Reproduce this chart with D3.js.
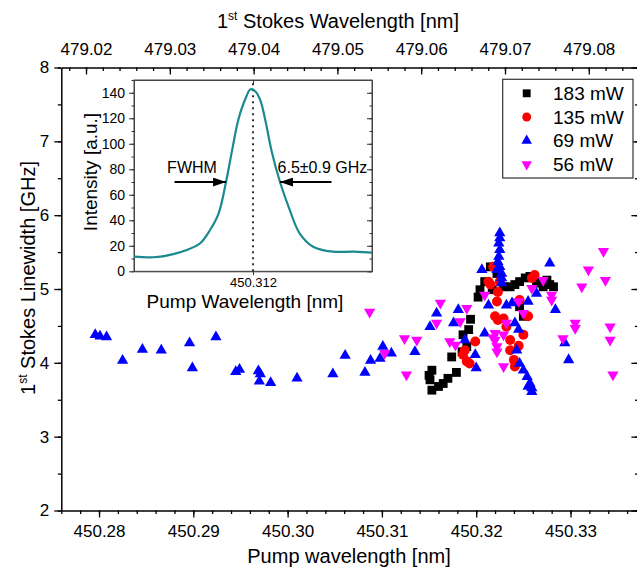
<!DOCTYPE html>
<html>
<head>
<meta charset="utf-8">
<script src="https://cdn.jsdelivr.net/npm/d3@7"></script>
<style>
  body { margin: 0; background: #fff; }
  svg { display: block; font-family: "Liberation Sans", Arial, sans-serif; }
</style>
</head>
<body>
<div id="myDiv"></div>
<script>
//--------------------------------------------------
// Data
//--------------------------------------------------
var pump183 = [450.3150, 450.3151, 450.3153, 450.3153, 450.3160, 450.3165, 450.3170, 450.3179, 450.3174, 450.3185, 450.3190, 450.3186, 450.3192, 450.3194, 450.3202, 450.3204, 450.3209, 450.3215, 450.3217, 450.3222, 450.3229, 450.3236, 450.3241, 450.3246, 450.3252, 450.3257, 450.3264, 450.3271, 450.3278, 450.3282, 450.3250, 450.3246, 450.3268, 450.3275];
var lw183 = [3.83, 3.77, 3.63, 3.90, 3.68, 3.72, 3.79, 3.87, 4.08, 4.15, 4.22, 4.38, 4.45, 4.59, 4.89, 4.99, 5.10, 5.30, 4.99, 5.21, 5.03, 5.03, 5.06, 5.10, 5.15, 5.17, 5.10, 5.03, 5.06, 5.03, 4.63, 4.76, 5.08, 5.12];

var pump135 = [450.3218, 450.3213, 450.3223, 450.3222, 450.3220, 450.3223, 450.3229, 450.3232, 450.3199, 450.3188, 450.3186, 450.3190, 450.3193, 450.3236, 450.3250, 450.3245, 450.3236, 450.3240, 450.3241, 450.3255, 450.3259, 450.3262, 450.3225, 450.3246, 450.3215];
var lw135 = [5.30, 5.10, 4.96, 4.83, 4.63, 4.58, 4.60, 4.49, 4.29, 4.17, 4.11, 4.02, 3.99, 4.31, 4.38, 4.23, 4.17, 4.04, 3.95, 4.63, 5.15, 5.19, 5.10, 4.85, 5.06];

var pump69 = [450.2796, 450.2801, 450.2808, 450.2825, 450.2846, 450.2866, 450.2896, 450.2899, 450.2924, 450.2945, 450.2949, 450.2969, 450.2971, 450.2970, 450.2982, 450.3010, 450.3048, 450.3061, 450.3082, 450.3088, 450.3098, 450.3101, 450.3110, 450.3135, 450.3151, 450.3158, 450.3176, 450.3181, 450.3188, 450.3199, 450.3200, 450.3206, 450.3209, 450.3213, 450.3222, 450.3223, 450.3224, 450.3225, 450.3225, 450.3225, 450.3224, 450.3225, 450.3227, 450.3227, 450.3227, 450.3232, 450.3238, 450.3241, 450.3245, 450.3243, 450.3246, 450.3250, 450.3254, 450.3257, 450.3259, 450.3259, 450.3255, 450.3255, 450.3264, 450.3278, 450.3284, 450.3294, 450.3298];
var lw69 = [4.38, 4.36, 4.35, 4.03, 4.18, 4.17, 4.27, 3.93, 4.35, 3.88, 3.91, 3.89, 3.85, 3.75, 3.73, 3.79, 3.85, 4.10, 3.87, 4.03, 4.06, 4.22, 4.13, 4.15, 4.49, 4.67, 4.54, 4.72, 4.31, 4.11, 3.93, 5.26, 4.40, 4.78, 5.26, 5.37, 5.44, 5.53, 5.69, 5.76, 5.62, 5.30, 5.21, 5.15, 5.08, 4.78, 4.81, 4.54, 4.45, 4.17, 3.99, 3.90, 3.81, 3.72, 3.66, 3.61, 3.68, 4.83, 4.94, 5.35, 4.72, 4.27, 4.04];

var pump56 = [450.3087, 450.3103, 450.3124, 450.3126, 450.3137, 450.3158, 450.3162, 450.3172, 450.3178, 450.3183, 450.3190, 450.3209, 450.3218, 450.3220, 450.3220, 450.3222, 450.3222, 450.3229, 450.3229, 450.3232, 450.3245, 450.3250, 450.3259, 450.3271, 450.3280, 450.3280, 450.3292, 450.3305, 450.3305, 450.3312, 450.3319, 450.3335, 450.3337, 450.3342, 450.3342, 450.3345];
var lw56 = [4.69, 4.13, 4.33, 3.84, 4.31, 4.54, 4.81, 4.29, 4.24, 4.56, 4.74, 4.92, 4.34, 4.40, 4.31, 4.22, 4.15, 4.38, 3.95, 4.54, 4.83, 4.67, 5.01, 5.12, 4.92, 4.85, 4.33, 4.54, 4.47, 5.03, 5.26, 5.51, 5.12, 4.49, 4.31, 3.84];

var seriesNames = ['183 mW', '135 mW', '69 mW', '56 mW'];
var seriesColors = ['#000000', '#ff0000', '#0000ff', '#ff00ff'];

// inset spectrum
var insetPump = [450.3023, 450.3039, 450.3055, 450.3066, 450.3077, 450.3085, 450.3092, 450.3098, 450.3103, 450.3108, 450.3114, 450.3118, 450.3122, 450.3126, 450.3130, 450.3135, 450.3142, 450.3150, 450.3158, 450.3169, 450.3185, 450.3202, 450.3217];
var insetIntensity = [11.5, 11, 13.5, 16.7, 22, 32.4, 45.5, 70, 95, 118.7, 135.7, 142.7, 141, 134, 118.7, 95, 70, 48, 29.8, 19.3, 15.4, 15.4, 14.6];

var bottomTicks = [450.28, 450.29, 450.30, 450.31, 450.32, 450.33];
var topTicks = [479.02, 479.03, 479.04, 479.05, 479.06, 479.07, 479.08];
var leftTicks = [2, 3, 4, 5, 6, 7, 8];
var insetYTicks = [0, 20, 40, 60, 80, 100, 120, 140];
var insetXTicks = [450.312];

//--------------------------------------------------
// Chart
//--------------------------------------------------
var width = 637, height = 568;
var fontFamily = '"Liberation Sans", Arial, sans-serif';

var svg = d3.select('#myDiv').append('svg')
  .attr('width', width)
  .attr('height', height);

svg.append('rect').attr('width', width).attr('height', height).attr('fill', '#fff');

var x = d3.scaleLinear().domain([450.276, 450.3372]).range([61.3, 638.4]);
var xTop = d3.scaleLinear().domain([479.01705, 479.08592]).range([61.3, 638.4]);
var y = d3.scaleLinear().domain([2, 8]).range([510.5, 67.5]);

function minorTicks(lo, hi, step) {
  var out = [];
  var n = Math.round((hi - lo) / step);
  for (var i = 0; i <= n; i++) out.push(lo + i * step);
  return out;
}

function styleAxis(g, fs) {
  g.select('.domain').attr('stroke', '#000').attr('stroke-width', 1.5);
  g.selectAll('.tick line').attr('stroke', '#000').attr('stroke-width', 1.3);
  g.selectAll('.tick text').attr('fill', '#000').style('font-size', fs + 'px').style('font-family', fontFamily);
}

// bottom axis
var gBottom = svg.append('g').attr('transform', 'translate(0,' + y(2) + ')');
gBottom.call(d3.axisBottom(x).tickValues(minorTicks(450.276, 450.336, 0.002)).tickSize(3.5).tickFormat('').tickSizeOuter(0));
gBottom.append('g').call(d3.axisBottom(x).tickValues(bottomTicks).tickSize(7).tickPadding(7).tickFormat(d3.format('.2f')).tickSizeOuter(0))
  .select('.domain').remove();
styleAxis(gBottom, 17);

// top axis (ticks point inward)
var gTop = svg.append('g').attr('transform', 'translate(0,' + y(8) + ')');
gTop.call(d3.axisBottom(xTop).tickValues(minorTicks(479.018, 479.084, 0.002)).tickSize(3.5).tickFormat('').tickSizeOuter(0));
gTop.append('g').call(d3.axisBottom(xTop).tickValues(topTicks).tickSize(7).tickFormat('').tickSizeOuter(0))
  .select('.domain').remove();
gTop.append('g').call(d3.axisTop(xTop).tickValues(topTicks).tickSize(0).tickPadding(13).tickFormat(d3.format('.2f')))
  .select('.domain').remove();
styleAxis(gTop, 17);

// left axis
var gLeft = svg.append('g').attr('transform', 'translate(' + x.range()[0] + ',0)');
gLeft.call(d3.axisLeft(y).tickValues(minorTicks(2, 8, 0.5)).tickSize(3.5).tickFormat('').tickSizeOuter(0));
gLeft.append('g').call(d3.axisLeft(y).tickValues(leftTicks).tickSize(7).tickPadding(5).tickFormat(d3.format('d')).tickSizeOuter(0))
  .select('.domain').remove();
styleAxis(gLeft, 17);

// right axis (ticks point inward)
var gRight = svg.append('g').attr('transform', 'translate(' + x.range()[1] + ',0)');
gRight.call(d3.axisLeft(y).tickValues(minorTicks(2, 8, 0.5)).tickSize(3.5).tickFormat('').tickSizeOuter(0));
gRight.append('g').call(d3.axisLeft(y).tickValues(leftTicks).tickSize(7).tickFormat('').tickSizeOuter(0))
  .select('.domain').remove();
styleAxis(gRight, 17);

// axis titles
svg.append('text')
  .attr('x', 349).attr('y', 563)
  .attr('text-anchor', 'middle')
  .style('font-size', '20px')
  .text('Pump wavelength [nm]');

var topTitle = svg.append('text')
  .attr('x', 338).attr('y', 28)
  .attr('text-anchor', 'middle')
  .style('font-size', '20px');
topTitle.append('tspan').text('1');
topTitle.append('tspan').attr('dy', -8).style('font-size', '12px').text('st');
topTitle.append('tspan').attr('dy', 8).text(' Stokes Wavelength [nm]');

var leftTitle = svg.append('text')
  .attr('transform', 'translate(35,278) rotate(-90)')
  .attr('text-anchor', 'middle')
  .style('font-size', '20px');
leftTitle.append('tspan').text('1');
leftTitle.append('tspan').attr('dy', -8).style('font-size', '12px').text('st');
leftTitle.append('tspan').attr('dy', 8).text(' Stokes Linewidth [GHz]');

//--------------------------------------------------
// Scatter series
//--------------------------------------------------
var series = [
  { name: seriesNames[0], color: seriesColors[0], xs: pump183, ys: lw183, symbol: d3.symbolSquare, size: 78, rot: 0 },
  { name: seriesNames[1], color: seriesColors[1], xs: pump135, ys: lw135, symbol: d3.symbolCircle, size: 78, rot: 0 },
  { name: seriesNames[2], color: seriesColors[2], xs: pump69, ys: lw69, symbol: d3.symbolTriangle, size: 55, rot: 0 },
  { name: seriesNames[3], color: seriesColors[3], xs: pump56, ys: lw56, symbol: d3.symbolTriangle, size: 55, rot: 180 }
];

series.forEach(function(s) {
  var pts = s.xs.map(function(v, i) { return [v, s.ys[i]]; });
  svg.append('g')
    .selectAll('path')
    .data(pts)
    .enter().append('path')
      .attr('d', d3.symbol().type(s.symbol).size(s.size))
      .attr('transform', function(d) { return 'translate(' + x(d[0]) + ',' + y(d[1]) + ') rotate(' + s.rot + ')'; })
      .attr('fill', s.color);
});

//--------------------------------------------------
// Legend
//--------------------------------------------------
var legend = svg.append('g').attr('class', 'legend');
legend.append('rect')
  .attr('x', 502.7).attr('y', 79.3)
  .attr('width', 130.3).attr('height', 98.7)
  .attr('fill', '#fff').attr('stroke', '#333').attr('stroke-width', 1.2);
var rowHeight = 23.7;
series.forEach(function(s, i) {
  var cy = 93.3 + i * rowHeight;
  legend.append('path')
    .attr('d', d3.symbol().type(s.symbol).size(s.symbol === d3.symbolTriangle ? 48 : 62))
    .attr('transform', 'translate(526.7,' + cy + ') rotate(' + s.rot + ')')
    .attr('fill', s.color);
  legend.append('text')
    .attr('x', 553).attr('y', cy + 6.5)
    .style('font-size', '19px')
    .text(s.name);
});

//--------------------------------------------------
// Inset
//--------------------------------------------------
var ix = d3.scaleLinear().domain([450.3023, 450.3217]).range([134, 372]);
var iy = d3.scaleLinear().domain([0, 150]).range([271.3, 80]);
var inset = svg.append('g').attr('class', 'inset');

inset.append('rect')
  .attr('x', ix.range()[0]).attr('y', iy.range()[1])
  .attr('width', ix.range()[1] - ix.range()[0]).attr('height', iy.range()[0] - iy.range()[1])
  .attr('fill', '#fff').attr('stroke', '#444').attr('stroke-width', 1);

function styleInsetAxis(g, fs) {
  g.select('.domain').attr('stroke', '#444').attr('stroke-width', 1);
  g.selectAll('.tick line').attr('stroke', '#333').attr('stroke-width', 1);
  g.selectAll('.tick text').attr('fill', '#000').style('font-size', fs + 'px').style('font-family', fontFamily);
}

var giLeft = inset.append('g').attr('transform', 'translate(' + ix.range()[0] + ',0)');
giLeft.call(d3.axisLeft(iy).tickValues(minorTicks(0, 150, 10)).tickSize(2.5).tickFormat('').tickSizeOuter(0));
giLeft.append('g').call(d3.axisLeft(iy).tickValues(insetYTicks).tickSize(5).tickPadding(4).tickSizeOuter(0))
  .select('.domain').remove();
styleInsetAxis(giLeft, 14);

var giRight = inset.append('g').attr('transform', 'translate(' + ix.range()[1] + ',0)');
giRight.call(d3.axisLeft(iy).tickValues(minorTicks(0, 150, 10)).tickSize(2.5).tickFormat('').tickSizeOuter(0));
giRight.append('g').call(d3.axisLeft(iy).tickValues(insetYTicks).tickSize(5).tickFormat('').tickSizeOuter(0))
  .select('.domain').remove();
styleInsetAxis(giRight, 14);

var giBottom = inset.append('g').attr('transform', 'translate(0,' + iy.range()[0] + ')');
giBottom.call(d3.axisBottom(ix).tickValues(insetXTicks).tickSize(4).tickPadding(2).tickFormat(d3.format('.3f')).tickSizeOuter(0));
styleInsetAxis(giBottom, 13);

var giTop = inset.append('g').attr('transform', 'translate(0,' + iy.range()[1] + ')');
giTop.call(d3.axisBottom(ix).tickValues(insetXTicks).tickSize(5).tickFormat('').tickSizeOuter(0));
styleInsetAxis(giTop, 13);

// dotted centre line
inset.append('line')
  .attr('x1', ix(insetXTicks[0])).attr('x2', ix(insetXTicks[0]))
  .attr('y1', iy(0)).attr('y2', iy(150))
  .attr('stroke', '#333').attr('stroke-width', 2)
  .attr('stroke-dasharray', '2,4');

// spectrum line
var line = d3.line()
  .x(function(d, i) { return ix(insetPump[i]); })
  .y(function(d) { return iy(d); })
  .curve(d3.curveCatmullRom);

inset.append('path')
  .datum(insetIntensity)
  .attr('d', line)
  .attr('fill', 'none')
  .attr('stroke', '#1b8a90')
  .attr('stroke-width', 2.2);

// FWHM arrows
var defs = svg.append('defs');
defs.append('marker')
  .attr('id', 'arrow')
  .attr('viewBox', '0 0 13 9')
  .attr('refX', 13).attr('refY', 4.5)
  .attr('markerWidth', 13).attr('markerHeight', 9)
  .attr('markerUnits', 'userSpaceOnUse')
  .attr('orient', 'auto')
  .append('path').attr('d', 'M0,0L13,4.5L0,9Z').attr('fill', '#000');

inset.append('line')
  .attr('x1', ix(450.3056)).attr('x2', ix(450.3098))
  .attr('y1', iy(70)).attr('y2', iy(70))
  .attr('stroke', '#000').attr('stroke-width', 2)
  .attr('marker-end', 'url(#arrow)');
inset.append('line')
  .attr('x1', ix(450.3184)).attr('x2', ix(450.3142))
  .attr('y1', iy(70)).attr('y2', iy(70))
  .attr('stroke', '#000').attr('stroke-width', 2)
  .attr('marker-end', 'url(#arrow)');

inset.append('text')
  .attr('x', ix(450.3050)).attr('y', iy(77))
  .style('font-size', '16px')
  .text('FWHM');
inset.append('text')
  .attr('x', ix(450.3140)).attr('y', iy(77))
  .style('font-size', '16px')
  .text('6.5\u00b10.9 GHz');

// inset titles
inset.append('text')
  .attr('x', 245).attr('y', 308)
  .attr('text-anchor', 'middle')
  .style('font-size', '19px')
  .text('Pump Wavelength [nm]');
inset.append('text')
  .attr('transform', 'translate(97,172) rotate(-90)')
  .attr('text-anchor', 'middle')
  .style('font-size', '19px')
  .text('Intensity [a.u.]');
</script>
</body>
</html>
